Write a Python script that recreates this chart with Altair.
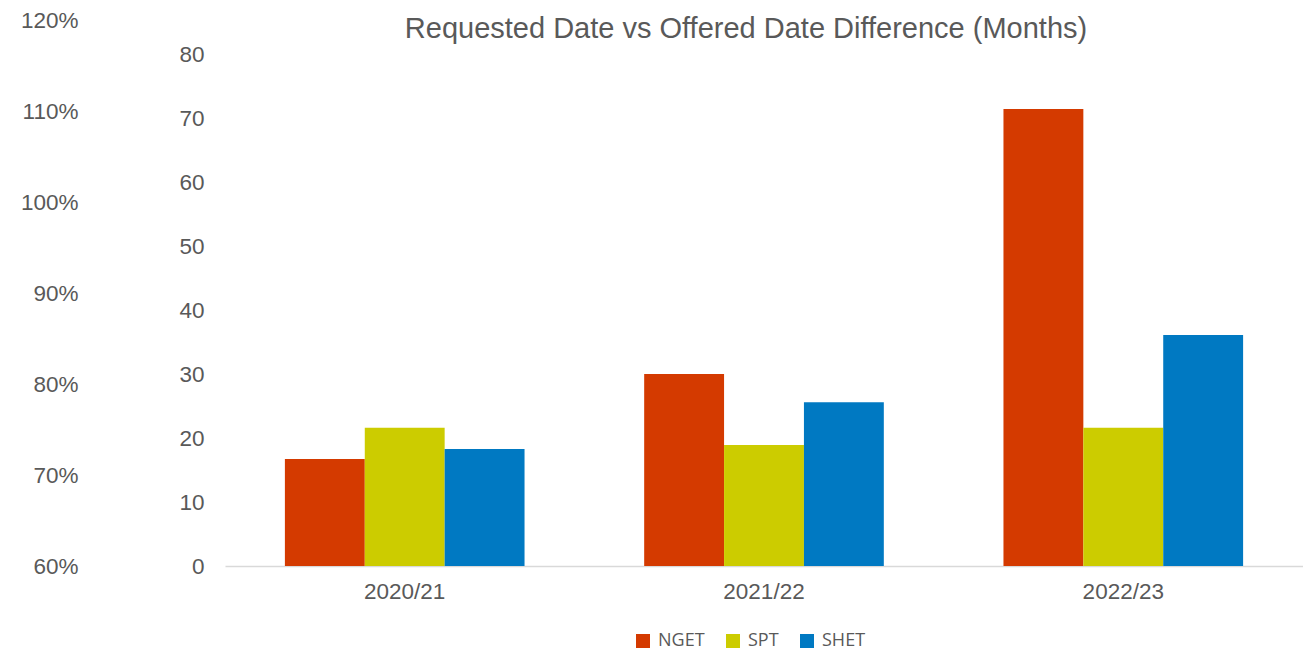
import altair as alt
import pandas as pd

years = ["2020/21", "2021/22", "2022/23"]
series = ["NGET", "SPT", "SHET"]
nget = [16.7, 30.0, 71.4]
spt = [21.6, 18.9, 21.6]
shet = [18.3, 25.6, 36.1]
colors = ["#D43A00", "#CCCC00", "#0079C2"]
month_ticks = [0, 10, 20, 30, 40, 50, 60, 70, 80]
pct_ticks = [0.6, 0.7, 0.8, 0.9, 1.0, 1.1, 1.2]
title_text = "Requested Date vs Offered Date Difference (Months)"

rows = []
for name, vals in zip(series, [nget, spt, shet]):
    for y, v in zip(years, vals):
        rows.append({"year": y, "series": name, "value": v})
df = pd.DataFrame(rows)
pct_df = pd.DataFrame({"pct": pct_ticks})
title_df = pd.DataFrame({"t": [title_text]})

FONT = "Liberation Sans"
GREY = "#595959"

bars = alt.Chart(df).mark_bar().encode(
    x=alt.X("year:N", sort=years,
            scale=alt.Scale(paddingInner=0.333, paddingOuter=0.1667),
            axis=alt.Axis(title=None, labelAngle=0, ticks=False, domainColor="#D9D9D9",
                          domainWidth=1.5, labelPadding=14, labelFontSize=22.5,
                          labelFont=FONT, labelColor=GREY, grid=False)),
    xOffset=alt.XOffset("series:N", sort=series, scale=alt.Scale(domain=series, paddingInner=0, paddingOuter=0)),
    y=alt.Y("value:Q", scale=alt.Scale(domain=[0, 85.3125], nice=False, zero=True),
            axis=alt.Axis(title=None, values=month_ticks, ticks=False, domain=False, grid=False,
                          labelPadding=21, labelFontSize=22.5, labelFont=FONT, labelColor=GREY)),
    color=alt.Color("series:N", sort=series,
                    scale=alt.Scale(domain=series, range=colors),
                    legend=alt.Legend(title=None, orient="none", legendX=409, legendY=612,
                                      direction="horizontal", symbolType="square", symbolSize=196,
                                      symbolStrokeWidth=0, labelFont="Open Sans", labelFontSize=18,
                                      labelColor=GREY, labelOffset=6, columnPadding=19, padding=0)),
)

pct = alt.Chart(pct_df).mark_point(opacity=0).encode(
    y=alt.Y("pct:Q", scale=alt.Scale(domain=[0.6, 1.2], nice=False, zero=False),
            axis=alt.Axis(title=None, orient="left", format=".0%", values=pct_ticks, ticks=False,
                          domain=False, grid=False, offset=126, labelPadding=21,
                          labelFontSize=22.5, labelFont=FONT, labelColor=GREY)),
)

title = alt.Chart(title_df).mark_text(font=FONT, fontSize=29, color=GREY, align="center",
                                      baseline="alphabetic").encode(
    text="t:N", x=alt.value(521), y=alt.value(18))

chart = alt.layer(bars, pct, title).resolve_scale(y="independent").properties(
    width=1078, height=546,
    autosize=alt.AutoSizeParams(type="none"),
    padding={"left": 217, "top": 12, "right": 0, "bottom": 86},
).configure_view(stroke=None)

chart.save("out.html", embed_options={"renderer": "svg", "actions": False})
